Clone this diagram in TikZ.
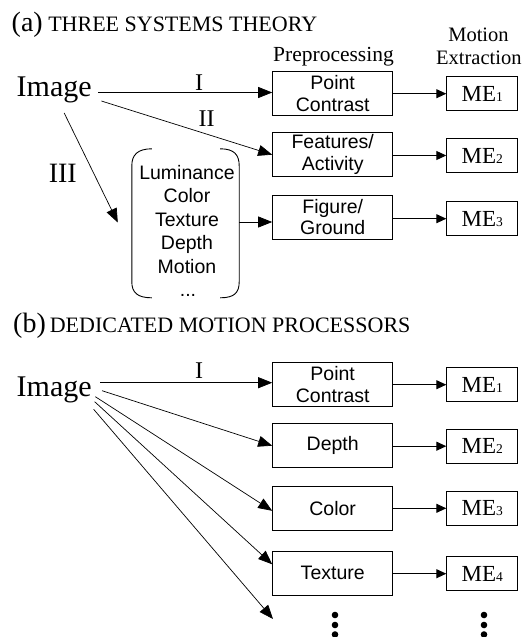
\documentclass[tikz,border=0pt]{standalone}
\usepackage{fontspec}
\setmainfont{Liberation Serif}
\setsansfont{Liberation Sans}
\usetikzlibrary{arrows.meta}
\tikzstyle{procbox}=[draw,line width=1pt,minimum width=120pt,minimum height=44pt,inner sep=0pt,align=center,font=\sffamily\fontsize{19.5}{21.5}\selectfont]
\tikzstyle{mebox}=[draw,line width=1pt,minimum width=71pt,minimum height=34pt,inner sep=0pt,font=\fontsize{23}{23}\selectfont]
\tikzstyle{bigarr}=[-{Triangle[length=14pt,width=11pt]},line width=0.7pt]
\tikzstyle{smallarr}=[-{Triangle[length=10pt,width=9pt]},line width=1pt]
\tikzstyle{numtxt}=[inner sep=0pt,anchor=base,font=\fontsize{24}{24}\selectfont]
\tikzstyle{imgtxt}=[inner sep=0pt,anchor=base west,font=\fontsize{30}{30}\selectfont]
\tikzstyle{headtxt}=[inner sep=0pt,anchor=base,font=\fontsize{20.5}{20.5}\selectfont]
\tikzstyle{titletxt}=[inner sep=0pt,anchor=base west,font=\fontsize{22}{22}\selectfont]
\newcommand{\mesub}[1]{{\fontsize{13.5}{13.5}\selectfont #1}}
\newcommand{\tagfont}{\fontsize{28}{28}\selectfont}

\begin{document}
\begin{tikzpicture}[x=1pt,y=-1pt]
		\tikzstyle{listtxt}=[inner sep=0pt,align=center,font=\sffamily\fontsize{19.5}{23.5}\selectfont]
		\tikzstyle{brkbox}=[inner sep=0pt,minimum width=107pt,minimum height=149pt]
		\useasboundingbox (0,0) rectangle (529,637);
		% (a) three systems
		\node[titletxt] at (11.5, 31.7) (titlea) {{\tagfont(a)} THREE SYSTEMS THEORY};
		\node[headtxt,font=\fontsize{21.5}{21.5}\selectfont] at (333.5, 61) (prep) {Preprocessing};
		\node[headtxt] at (478.5, 41.5) (motion) {Motion};
		\node[headtxt] at (478.8, 64.5) (extract) {Extraction};
		\node[imgtxt] at (16.5, 96.7) (imga) {Image};
		\node[procbox] at (332.7, 93.7) (pca) {Point\\Contrast};
		\node[procbox] at (332.7, 154.7) (faa) {Features/\\Activity};
		\node[procbox] at (332.7, 217) (fga) {Figure/\\Ground};
		\node[mebox] at (482.3, 93.7) (me1a) {ME\mesub{1}};
		\node[mebox] at (482.3, 155.5) (me2a) {ME\mesub{2}};
		\node[mebox] at (482.3, 218.7) (me3a) {ME\mesub{3}};
		\node[brkbox] at (185.5, 223.5) (brk) {};
		\node[listtxt] at (187, 219.4) (cues) {Luminance\\Color\\Texture\\Depth\\Motion};
		\node[listtxt,anchor=base] at (188, 296) (cuesmore) {...};
		\node[numtxt] at (199, 90.3) (sysI) {I};
		\node[numtxt] at (206.5, 126.4) (sysII) {II};
		\node[numtxt,font=\fontsize{28}{28}\selectfont] at (62.8, 182) (sysIII) {III};
		\draw[line width=0.9pt] ([shift={(20,0)}]brk.north west) .. controls +(-14,0) and +(0,-11) .. ++(-20,17) -- ++(0,116) .. controls +(0,11) and +(-14,0) .. ++(20,16);
		\draw[line width=0.9pt] ([shift={(-19,0)}]brk.north east) .. controls +(14,0) and +(0,-11) .. ++(19,17) -- ++(0,116) .. controls +(0,11) and +(14,0) .. ++(-19,16);
		\draw[bigarr] ([shift={(6.5,-4.2)}]imga.base east) coordinate (ia) -- (ia -| pca.west);
		\draw[bigarr] ([shift={(9.5,4.3)}]imga.base east) -- (faa.west);
		\draw[bigarr] ([shift={(10,16.3)}]imga.base) -- ([shift={(-14,-1)}]brk.west);
		\draw[bigarr] ([shift={(0,-1.5)}]brk.east) coordinate (bk) -- (bk -| fga.west);
		\draw[smallarr] (pca.east |- me1a) -- (me1a.west);
		\draw[smallarr] (faa.east |- me2a) -- (me2a.west);
		\draw[smallarr] (fga.east |- me3a) -- (me3a.west);
		% (b) dedicated motion processors
		\node[titletxt] at (13, 332.5) (titleb) {{\tagfont(b)}\hspace{4pt}DEDICATED MOTION PROCESSORS};
		\node[imgtxt] at (16.5, 396.5) (imgb) {Image};
		\node[procbox] at (332.7, 384.7) (pcb) {Point\\Contrast};
		\node[procbox] at (332.7, 445.7) (dpb) {Depth};
		\node[procbox] at (332.7, 508.3) (clb) {Color};
		\node[procbox] at (332.7, 573.3) (txb) {Texture};
		\node[mebox] at (482.3, 384.7) (me1b) {ME\mesub{1}};
		\node[mebox] at (482.3, 446.2) (me2b) {ME\mesub{2}};
		\node[mebox] at (482.3, 508.3) (me3b) {ME\mesub{3}};
		\node[mebox] at (482.3, 573.7) (me4b) {ME\mesub{4}};
		\node[numtxt] at (199, 378.3) (procI) {I};
		\coordinate (more) at (273, 619);
		\draw[bigarr] ([shift={(8.5,-13.8)}]imgb.base east) coordinate (ib) -- (ib -| pcb.west);
		\draw[bigarr] ([shift={(10.2,-5.8)}]imgb.base east) -- (dpb.west);
		\draw[bigarr] ([shift={(3.5,0.2)}]imgb.base east) -- ([shift={(0,2.5)}]clb.west);
		\draw[bigarr] ([shift={(2.8,5.2)}]imgb.base east) -- ([shift={(0,-9)}]txb.west);
		\draw[bigarr] ([shift={(1.8,12.8)}]imgb.base east) -- (more);
		\draw[smallarr] (pcb.east |- me1b) -- (me1b.west);
		\draw[smallarr] (dpb.east |- me2b) -- (me2b.west);
		\draw[smallarr] (clb.east |- me3b) -- (me3b.west);
		\draw[smallarr] (txb.east |- me4b) -- (me4b.west);
		\foreach \y in {615, 625, 634.5} {
			\fill (335, \y) circle (3.3pt);
			\fill (484, \y) circle (3.3pt);
		}
\end{tikzpicture}
\end{document}
